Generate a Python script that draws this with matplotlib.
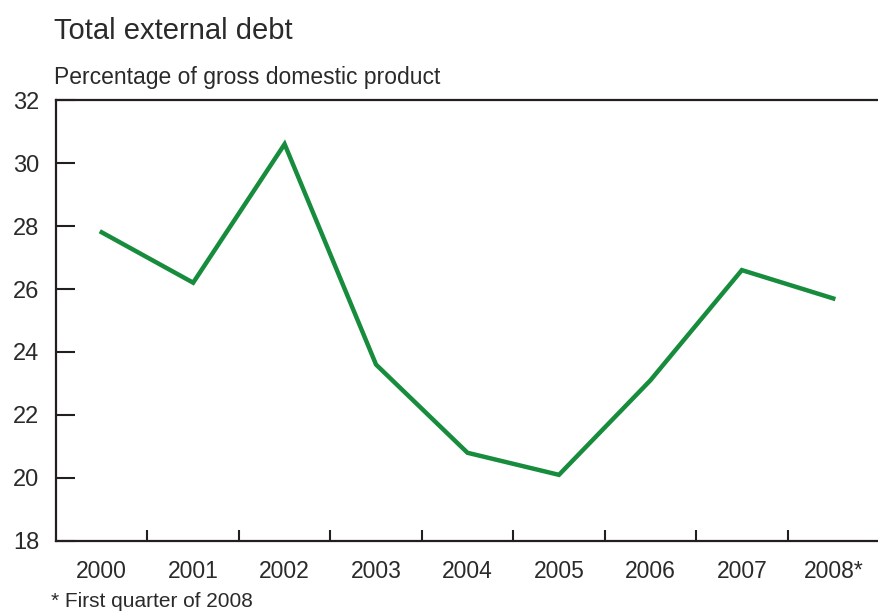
import matplotlib
matplotlib.use("Agg")
import matplotlib.pyplot as plt

# Total external debt, % of GDP
years = ["2000", "2001", "2002", "2003", "2004", "2005", "2006", "2007", "2008*"]
debt = [27.8, 26.2, 30.6, 23.6, 20.8, 20.1, 23.1, 26.6, 25.7]
yticks = [18, 20, 22, 24, 26, 28, 30, 32]

plt.rcParams['font.family'] = ['Liberation Sans', 'DejaVu Sans']
dark = '#231f20'
txt = '#2a2a2a'

fig = plt.figure(figsize=(8.79, 6.11), dpi=100)
ax = fig.add_axes([0.0637, 0.1146, 0.9363, 0.7217])

x = list(range(len(years)))
ax.plot(x, debt, color='#168c3c', lw=3.2, solid_joinstyle='miter')

ax.set_xlim(-0.5, len(years) - 0.5)
ax.set_ylim(18, 32)

# y axis: ticks pointing inward
ax.set_yticks(yticks)
ax.set_yticklabels([str(v) for v in yticks], fontsize=17, color=txt)
ax.tick_params(axis='y', direction='in', length=14, width=1.5, color=dark, pad=12)

# x axis: labels at category centres, short ticks at the boundaries
ax.set_xticks(x)
ax.set_xticklabels(years, fontsize=16.5, color=txt)
ax.set_xticks([i + 0.5 for i in x[:-1]], minor=True)
ax.tick_params(axis='x', which='major', length=0, pad=14)
ax.tick_params(axis='x', which='minor', direction='in', length=8, width=1.5, color=dark)

for side in ['left', 'bottom', 'top']:
    ax.spines[side].set_linewidth(1.6)
    ax.spines[side].set_color(dark)
ax.spines['right'].set_visible(False)

fig.text(0.061, 0.936, "Total external debt", fontsize=21, color=txt, ha='left', va='baseline')
fig.text(0.061, 0.862, "Percentage of gross domestic product", fontsize=16.5, color=txt,
         ha='left', va='baseline')
fig.text(0.058, 0.006, "* First quarter of 2008", fontsize=15, color=txt, ha='left', va='baseline')

fig.savefig("out.png", dpi=100)
